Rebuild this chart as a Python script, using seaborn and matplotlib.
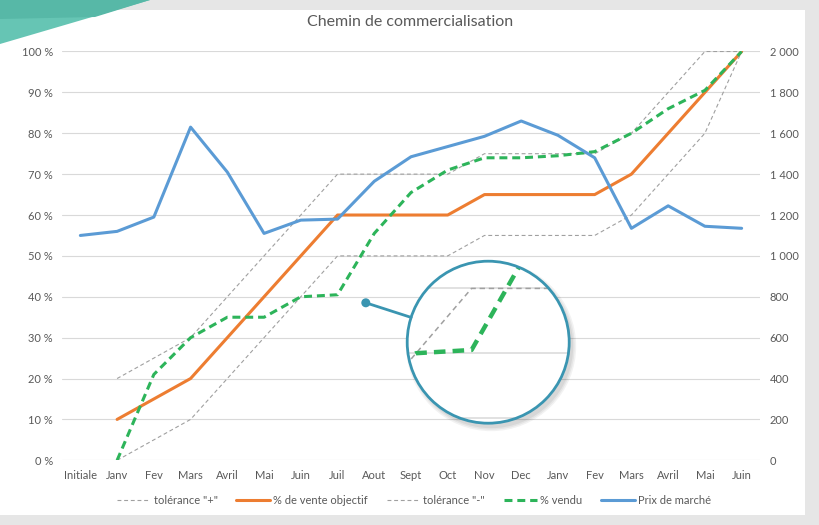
import numpy as np
import pandas as pd
import matplotlib
matplotlib.use("Agg")
import matplotlib.pyplot as plt
import seaborn as sns
from matplotlib.patches import Circle, Rectangle, Polygon
from matplotlib.lines import Line2D
from matplotlib.ticker import FuncFormatter

# ---------------- data ----------------
categories = ["Initiale", "Janv", "Fev", "Mars", "Avril", "Mai", "Juin", "Juil", "Aout",
              "Sept", "Oct", "Nov", "Dec", "Janv", "Fev", "Mars", "Avril", "Mai", "Juin"]
tolerance_plus = [np.nan, 20, 25, 30, 40, 50, 60, 70, 70, 70, 70, 75, 75, 75, 75, 80, 90, 100, 100]
objectif = [np.nan, 10, 15, 20, 30, 40, 50, 60, 60, 60, 60, 65, 65, 65, 65, 70, 80, 90, 100]
tolerance_minus = [np.nan, 0, 5, 10, 20, 30, 40, 50, 50, 50, 50, 55, 55, 55, 55, 60, 70, 80, 100]
vendu = [np.nan, 0, 21, 30, 35, 35, 40, 40.5, 55.5, 65.5, 71, 74, 74, 74.5, 75.5, 80, 86, 90.5, 100]
prix = [1100, 1120, 1190, 1630, 1410, 1110, 1175, 1180, 1365, 1485, 1535, 1585, 1660,
        1590, 1480, 1135, 1245, 1145, 1135]
left_ticks = list(range(0, 101, 10))
right_ticks = list(range(0, 2001, 200))

title = "Chemin de commercialisation"
labels = ['tolérance "+"', "% de vente objectif", 'tolérance "-"', "% vendu", "Prix de marché"]

# ---------------- style ----------------
sns.set_style("white")
plt.rcParams["font.family"] = ["Lato", "DejaVu Sans"]

TXT = "#595959"
GRID = "#D9D9D9"
BLUE = "#5B9BD5"
ORANGE = "#ED7D31"
GREEN = "#2DB45A"
GREY = "#A0A0A0"
TEAL = "#3A95B1"

W, H = 819, 525
fig = plt.figure(figsize=(W / 100, H / 100), dpi=100)
fig.patch.set_facecolor("#E6E6E6")


def fx(px):
    return px / W


def fy(py):
    return 1 - py / H


# paper
fig.add_artist(Rectangle((0, fy(515)), fx(805), (515 - 10) / H, transform=fig.transFigure,
                         facecolor="white", edgecolor="none", zorder=-2))
# teal corner decoration
fig.add_artist(Polygon([(0, 1), (fx(150), 1), (0, fy(44))], closed=True, transform=fig.transFigure,
                       facecolor="#66C5B4", edgecolor="none", zorder=-1))
fig.add_artist(Polygon([(0, 1), (fx(150), 1), (fx(95), fy(17)), (0, fy(19))], closed=True,
                       transform=fig.transFigure, facecolor="#57B8A7", edgecolor="none", zorder=-1))

# ---------------- main axes ----------------
ax = fig.add_axes([fx(62), fy(460.3), fx(760 - 62), (460.3 - 51.5) / H])
ax.set_facecolor("none")
idx = np.arange(len(categories))

df = pd.DataFrame({"idx": idx, "tp": tolerance_plus, "obj": objectif, "tm": tolerance_minus,
                   "vendu": vendu, "prix": prix})

dotted = (0, (3.5, 2.5))
green_dash = (0, (2.6, 1.6))

sns.lineplot(data=df, x="idx", y="tp", ax=ax, color=GREY, lw=0.8, linestyle=dotted, label=labels[0])
sns.lineplot(data=df, x="idx", y="obj", ax=ax, color=ORANGE, lw=2.2, label=labels[1])
sns.lineplot(data=df, x="idx", y="tm", ax=ax, color=GREY, lw=0.8, linestyle=dotted, label=labels[2])
sns.lineplot(data=df, x="idx", y="vendu", ax=ax, color=GREEN, lw=2.2, linestyle=green_dash, label=labels[3])

ax2 = ax.twinx()
sns.lineplot(data=df, x="idx", y="prix", ax=ax2, color=BLUE, lw=2.2, label=labels[4])

ax.set_xlim(-0.5, len(categories) - 0.5)
ax.set_ylim(0, 100)
ax2.set_ylim(0, 2000)
ax.set_xticks(idx)
ax.set_xticklabels(categories)
ax.set_yticks(left_ticks)
ax.yaxis.set_major_formatter(FuncFormatter(lambda v, p: f"{v:.0f} %"))
ax2.set_yticks(right_ticks)
ax2.yaxis.set_major_formatter(FuncFormatter(lambda v, p: f"{int(v):,}".replace(",", " ")))
ax.set_xlabel("")
ax.set_ylabel("")
ax2.set_ylabel("")
ax.grid(axis="y", color=GRID, lw=0.8)
ax.grid(axis="x", visible=False)
for a in (ax, ax2):
    for s in a.spines.values():
        s.set_visible(False)
ax.tick_params(axis="x", length=0, pad=7, labelsize=8, labelcolor=TXT)
ax.tick_params(axis="y", length=0, pad=6.5, labelsize=8, labelcolor=TXT)
ax2.tick_params(axis="y", length=0, pad=7, labelsize=8, labelcolor=TXT)

h1, l1 = ax.get_legend_handles_labels()
h2, l2 = ax2.get_legend_handles_labels()
for a in (ax, ax2):
    if a.get_legend() is not None:
        a.get_legend().remove()
fig.legend(h1 + h2, l1 + l2, loc="center", bbox_to_anchor=(fx(414), fy(500)), ncol=5,
           frameon=False, fontsize=8, handlelength=3.0, handletextpad=0.3, columnspacing=1.7,
           labelcolor=TXT)

fig.text(fx(410), fy(22), title, ha="center", va="center", fontsize=11.5, color=TXT)

# ---------------- magnifier ----------------
cx, cy, r = 488.2, 342.2, 81
# shadow
for k, a in enumerate([0.05, 0.05, 0.06]):
    fig.add_artist(Circle(((cx + 3) / 100, (H - cy - 4) / 100), (r + 4 - k * 1.5) / 100,
                          transform=fig.dpi_scale_trans, facecolor="black", alpha=a,
                          edgecolor="none", zorder=4))

ax_in = fig.add_axes([fx(cx - r), fy(cy + r), fx(2 * r), (2 * r) / H])
ax_in.set_zorder(6)
ax_in.set_axis_off()
clip = Circle((0.5, 0.5), 0.5, transform=ax_in.transAxes)
ax_in.add_patch(Circle((0.5, 0.5), 0.5, transform=ax_in.transAxes, facecolor="white",
                       edgecolor="none", zorder=0))
sns.lineplot(data=df, x="idx", y="tp", ax=ax_in, color=GREY, lw=1.1, linestyle=dotted)
sns.lineplot(data=df, x="idx", y="obj", ax=ax_in, color=ORANGE, lw=3.2)
sns.lineplot(data=df, x="idx", y="tm", ax=ax_in, color=GREY, lw=1.1, linestyle=dotted)
sns.lineplot(data=df, x="idx", y="vendu", ax=ax_in, color=GREEN, lw=3.2, linestyle=green_dash)
for gy in (30, 40, 50):
    ax_in.axhline(gy, color=GRID, lw=1.1, zorder=1)
for ln in ax_in.lines:
    ln.set_clip_path(clip)
ax_in.set_xlim(5.84, 8.76)
ax_in.set_ylim(29.2, 54.2)
ax_in.add_patch(Circle((0.5, 0.5), 0.5, transform=ax_in.transAxes, fill=False,
                       edgecolor=TEAL, lw=2.0, zorder=10, clip_on=False))

# pointer
dot = (365.8, 302.8)
edge = (411.1, 317.4)
fig.add_artist(Line2D([dot[0] / 100, edge[0] / 100], [(H - dot[1]) / 100, (H - edge[1]) / 100],
                      transform=fig.dpi_scale_trans, color=TEAL, lw=2.0, zorder=7))
fig.add_artist(Circle((dot[0] / 100, (H - dot[1]) / 100), 4.5 / 100, transform=fig.dpi_scale_trans,
                      facecolor=TEAL, edgecolor="none", zorder=7))

fig.savefig("out.png", dpi=100, facecolor=fig.get_facecolor())
